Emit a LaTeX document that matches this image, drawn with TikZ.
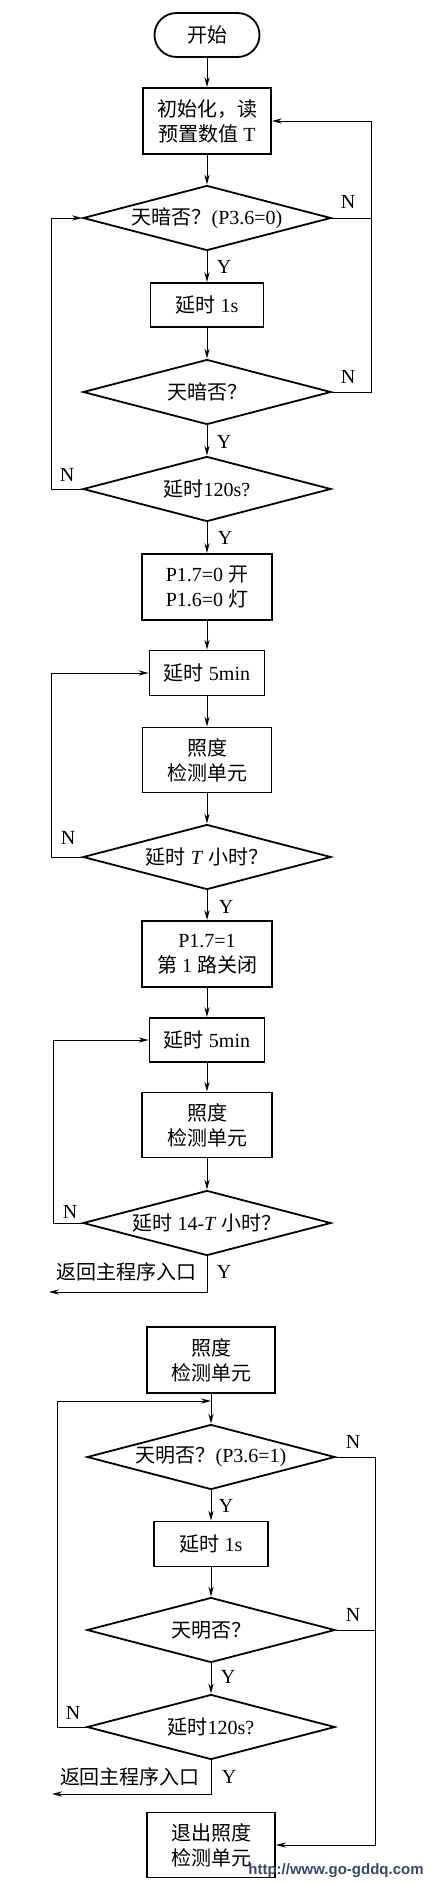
\documentclass[tikz,border=0pt]{standalone}
\usepackage{fontspec}
\setmainfont{Liberation Serif}
\newfontfamily\cjk{Noto Sans CJK SC}
\newfontfamily\wmfont{Liberation Sans}
\usetikzlibrary{shapes.geometric,arrows.meta}
\definecolor{wmcol}{RGB}{55,70,105}
\newcommand\zh[1]{{\cjk #1}}
\begin{document}
\begin{tikzpicture}[x=0.5pt,y=-0.5pt,
  font=\fontsize{10}{12.5}\selectfont,
  box/.style={draw,line width=0.9pt,align=center,inner sep=0pt},
  term/.style={draw,line width=0.9pt,rounded corners=11pt,minimum width=52.5pt,minimum height=22pt,inner sep=0pt},
  dec/.style={draw,line width=0.9pt,diamond,aspect=3.8,inner sep=0pt,minimum width=124pt,minimum height=32.5pt},
  conn/.style={line width=0.5pt},
  arr/.style={conn,-{Stealth[length=5pt,width=2.6pt]}},
  lab/.style={font=\fontsize{10}{11}\selectfont,inner sep=0pt},
]
\useasboundingbox (0,0) rectangle (430,1885);

% guide coordinates
\coordinate (r1) at (371,0);
\coordinate (l1) at (51,0);
\coordinate (l2) at (53,0);
\coordinate (l3) at (57,0);
\coordinate (r2) at (375,0);

% upper chart
\node[term] (start) at (207,35) {\zh{开始}};
\node[box,minimum width=64pt,minimum height=33pt] (init) at (207,121) {\zh{初始化，读}\\\zh{预置数值} T};
\node[dec] (d1) at (207,218) {\zh{天暗否？}(P3.6=0)};
\node[box,minimum width=56.5pt,minimum height=22pt] (dly1) at (207,305) {\zh{延时} 1s};
\node[dec] (d2) at (207,392) {\zh{天暗否？}};
\node[dec] (d3) at (207,489) {\zh{延时}120s?};
\node[box,minimum width=65pt,minimum height=33pt] (on) at (207,587) {P1.7=0 \zh{开}\\P1.6=0 \zh{灯}};
\node[box,minimum width=57.5pt,minimum height=22.5pt] (w1) at (207,673) {\zh{延时} 5min};
\node[box,minimum width=64.5pt,minimum height=32.5pt] (lum1) at (207,760) {\zh{照度}\\\zh{检测单元}};
\node[dec] (dT) at (207,857) {\zh{延时} \textit{T} \zh{小时？}};
\node[box,minimum width=65pt,minimum height=33pt] (off1) at (207,954) {P1.7=1\\\zh{第} 1 \zh{路关闭}};
\node[box,minimum width=57.5pt,minimum height=22pt] (w2) at (207,1040) {\zh{延时} 5min};
\node[box,minimum width=65pt,minimum height=32.5pt] (lum2) at (207,1125) {\zh{照度}\\\zh{检测单元}};
\node[dec] (d14) at (207,1223) {\zh{延时} 14-\textit{T} \zh{小时？}};
\coordinate (e1) at (49,1292);
\node (ret1) at (126,1272) {\zh{返回主程序入口}};

% lower chart
\node[box,minimum width=64pt,minimum height=33pt] (lum3) at (211,1360) {\zh{照度}\\\zh{检测单元}};
\coordinate (j) at (211,1401);
\node[dec] (dL1) at (211,1457) {\zh{天明否？}(P3.6=1)};
\node[box,minimum width=57pt,minimum height=22.5pt] (dly2) at (211,1544) {\zh{延时} 1s};
\node[dec] (dL2) at (211,1630) {\zh{天明否？}};
\node[dec] (dL3) at (211,1727) {\zh{延时}120s?};
\coordinate (e2) at (52,1794);
\node (ret2) at (130,1777) {\zh{返回主程序入口}};
\node[box,minimum width=64pt,minimum height=32.5pt] (quit) at (211,1845) {\zh{退出照度}\\\zh{检测单元}};

% main flow
\draw[arr] (start) -- (init);
\draw[arr] (init) -- (d1);
\draw[arr] (d1) -- (dly1);
\draw[arr] (dly1) -- (d2);
\draw[arr] (d2) -- (d3);
\draw[arr] (d3) -- (on);
\draw[arr] (on) -- (w1);
\draw[arr] (w1) -- (lum1);
\draw[arr] (lum1) -- (dT);
\draw[arr] (dT) -- (off1);
\draw[arr] (off1) -- (w2);
\draw[arr] (w2) -- (lum2);
\draw[arr] (lum2) -- (d14);

% loops upper
\draw[conn] (d1.east) -- (d1.east -| r1);
\draw[arr] (d2.east) -| (init.east -| r1) -- (init.east);
\draw[arr] (d3.west) -| (d1.west -| l1) -- (d1.west);
\draw[arr] (dT.west) -| (w1.west -| l1) -- (w1.west);
\draw[arr] (d14.west) -| (w2.west -| l2) -- (w2.west);
\draw[arr] (d14.south) |- (e1);

% lower flow
\draw[arr] (lum3) -- (dL1);
\draw[arr] (dL3.west) -| (j -| l3) -- (j);
\draw[arr] (dL1) -- (dly2);
\draw[arr] (dly2) -- (dL2);
\draw[arr] (dL2) -- (dL3);
\draw[arr] (dL1.east) -| (quit.east -| r2) -- (quit.east);
\draw[conn] (dL2.east) -- (dL2.east -| r2);
\draw[arr] (dL3.south) |- (e2);

% labels
\node[lab] (n1) at (348,202) {N};
\node[lab] (y1) at (224,267) {Y};
\node[lab] (n2) at (348,377) {N};
\node[lab] (y2) at (224,442) {Y};
\node[lab] (n3) at (67,475) {N};
\node[lab] (y3) at (225,538) {Y};
\node[lab] (n4) at (68,838) {N};
\node[lab] (y4) at (226,907) {Y};
\node[lab] (n5) at (70,1212) {N};
\node[lab] (y5) at (224,1272) {Y};
\node[lab] (n6) at (353,1442) {N};
\node[lab] (y6) at (226,1506) {Y};
\node[lab] (n7) at (353,1615) {N};
\node[lab] (y7) at (228,1677) {Y};
\node[lab] (n8) at (73,1713) {N};
\node[lab] (y8) at (229,1777) {Y};

% watermark
\node[font=\wmfont\bfseries\fontsize{7.5}{9}\selectfont,text=wmcol,inner sep=0pt] (wm) at (336,1871) {http://www.go-gddq.com};
\end{tikzpicture}
\end{document}
